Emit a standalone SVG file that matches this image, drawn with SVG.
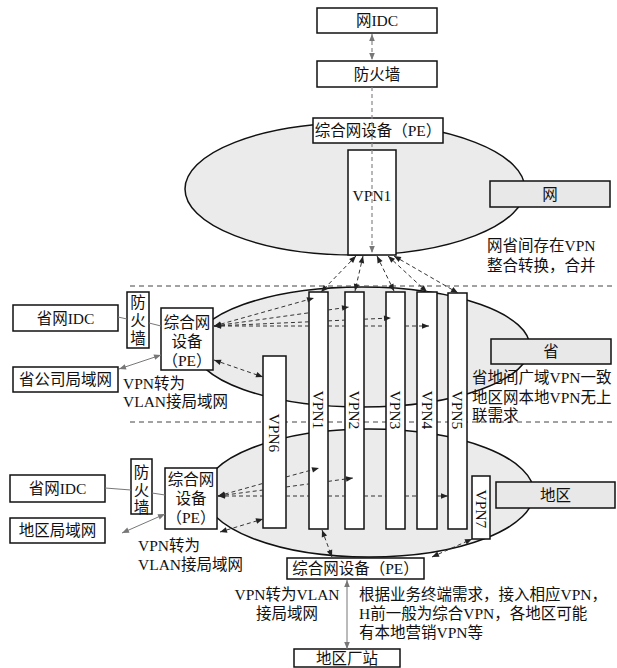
<svg xmlns="http://www.w3.org/2000/svg" width="617" height="668" viewBox="0 0 617 668">
<defs>
<style>
.t{font-family:"Liberation Serif","Noto Sans CJK SC",serif;font-size:15.5px;fill:#111}
.c{text-anchor:middle;dominant-baseline:central}
.box{fill:#fff;stroke:#111;stroke-width:1.5}
.gbox{fill:#e8e8e8;stroke:#111;stroke-width:1.5}
.ell{fill:#ebebeb;stroke:#111;stroke-width:1.5}
.dash{fill:none;stroke:#333;stroke-width:1;stroke-dasharray:4 3}
.gdash{fill:none;stroke:#888;stroke-width:1.2;stroke-dasharray:4 3}
.gline{fill:none;stroke:#777;stroke-width:1}
.sep{fill:none;stroke:#444;stroke-width:1;stroke-dasharray:5 4}
</style>
<marker id="ah" viewBox="0 0 10 10" refX="10" refY="5" markerWidth="8" markerHeight="7" markerUnits="userSpaceOnUse" orient="auto-start-reverse"><path d="M0,1 L10,5 L0,9 z" fill="#222"/></marker>
<marker id="ag" viewBox="0 0 10 10" refX="10" refY="5" markerWidth="8" markerHeight="7" markerUnits="userSpaceOnUse" orient="auto-start-reverse"><path d="M0,1 L10,5 L0,9 z" fill="#777"/></marker>
</defs>
<rect width="617" height="668" fill="#fff"/>

<!-- regions -->
<g id="region-top"><ellipse class="ell" cx="355" cy="189" rx="170" ry="66"/></g>
<g id="region-prov"><ellipse class="ell" cx="362" cy="347" rx="168" ry="60"/></g>
<g id="region-area"><ellipse class="ell" cx="369" cy="493" rx="165" ry="64"/></g>

<g id="separators">
<path class="sep" d="M130,286 H612"/>
<path class="sep" d="M130,422 H612"/>
</g>

<!-- top nodes -->
<g id="idc-top"><rect class="box" x="317" y="8" width="120" height="25"/><text class="t c" x="377" y="20.5">网IDC</text></g>
<g id="fw-top"><rect class="box" x="317" y="61" width="120" height="26"/><text class="t c" x="377" y="74">防火墙</text></g>
<g id="pe-top"><rect class="box" x="313" y="118" width="130" height="25"/><text class="t c" x="378" y="130.5">综合网设备（PE）</text></g>
<g id="vpn1-top"><rect class="box" x="348" y="150" width="48" height="105"/><text class="t c" x="372" y="195">VPN1</text></g>
<g id="label-net"><rect class="gbox" x="490" y="181" width="120" height="26"/><text class="t c" x="550" y="194">网</text></g>

<!-- tall VPN bars -->
<g id="vpn1"><rect class="box" x="309" y="292" width="19" height="237"/><text class="t c" x="318.5" y="410" transform="rotate(90 318.5 410)">VPN1</text></g>
<g id="vpn2"><rect class="box" x="345" y="292" width="19" height="237"/><text class="t c" x="354.5" y="410" transform="rotate(90 354.5 410)">VPN2</text></g>
<g id="vpn3"><rect class="box" x="386" y="292" width="19" height="237"/><text class="t c" x="395.5" y="410" transform="rotate(90 395.5 410)">VPN3</text></g>
<g id="vpn4"><rect class="box" x="417" y="292" width="20" height="237"/><text class="t c" x="427" y="410" transform="rotate(90 427 410)">VPN4</text></g>
<g id="vpn5"><rect class="box" x="448" y="293" width="19" height="236"/><text class="t c" x="457.5" y="410" transform="rotate(90 457.5 410)">VPN5</text></g>
<g id="vpn6"><rect class="box" x="263" y="356" width="23" height="172"/><text class="t c" x="274.5" y="433" transform="rotate(90 274.5 433)">VPN6</text></g>
<g id="vpn7"><rect class="box" x="472" y="476" width="18" height="63"/><text class="t c" x="481" y="509" transform="rotate(90 481 509)">VPN7</text></g>

<!-- province side -->
<g id="label-prov"><rect class="gbox" x="491" y="339" width="120" height="25"/><text class="t c" x="551" y="351.5">省</text></g>
<g id="idc-prov"><rect class="box" x="13" y="305" width="105" height="26"/><text class="t c" x="65.5" y="318">省网IDC</text></g>
<g id="fw-prov"><rect class="box" x="127" y="292" width="22" height="56"/>
<text class="t c" x="138" y="302">防</text><text class="t c" x="138" y="320">火</text><text class="t c" x="138" y="338">墙</text></g>
<g id="pe-prov"><rect class="box" x="161" y="308" width="52" height="62"/>
<text class="t c" x="187" y="322">综合网</text><text class="t c" x="187" y="341">设备</text><text class="t c" x="187" y="360">（PE）</text></g>
<g id="lan-prov"><rect class="box" x="13" y="367" width="105" height="25"/><text class="t c" x="65.5" y="379.5">省公司局域网</text></g>

<!-- area side -->
<g id="label-area"><rect class="gbox" x="496" y="482" width="119" height="26"/><text class="t c" x="555.5" y="495">地区</text></g>
<g id="idc-area"><rect class="box" x="10" y="475" width="95" height="27"/><text class="t c" x="57.5" y="488.5">省网IDC</text></g>
<g id="fw-area"><rect class="box" x="131" y="459" width="21" height="55"/>
<text class="t c" x="141.5" y="472">防</text><text class="t c" x="141.5" y="490">火</text><text class="t c" x="141.5" y="507">墙</text></g>
<g id="pe-area"><rect class="box" x="165" y="468" width="52" height="61"/>
<text class="t c" x="191" y="479">综合网</text><text class="t c" x="191" y="498">设备</text><text class="t c" x="191" y="517">（PE）</text></g>
<g id="lan-area"><rect class="box" x="10" y="518" width="95" height="25"/><text class="t c" x="57.5" y="530.5">地区局域网</text></g>
<g id="pe-bottom"><rect class="box" x="287" y="558" width="137" height="21"/><text class="t c" x="355.5" y="568.5">综合网设备（PE）</text></g>
<g id="station"><rect class="box" x="294" y="649" width="106" height="18"/><text class="t c" x="347" y="658">地区厂站</text></g>

<!-- connectors -->
<g id="connectors">
<path class="gdash" d="M372,34 V60" marker-start="url(#ag)" marker-end="url(#ag)"/>
<path class="gdash" d="M372,87 V253" marker-end="url(#ag)"/>

<path class="dash" d="M356,256 L321,292" marker-start="url(#ah)" marker-end="url(#ah)"/>
<path class="dash" d="M363,256 L355,291" marker-start="url(#ah)" marker-end="url(#ah)"/>
<path class="dash" d="M377,256 L394,291" marker-start="url(#ah)" marker-end="url(#ah)"/>
<path class="dash" d="M388,256 L427,292" marker-start="url(#ah)" marker-end="url(#ah)"/>
<path class="dash" d="M394,256 L458,293" marker-start="url(#ah)" marker-end="url(#ah)"/>

<path class="dash" d="M214,326 L314,298" marker-start="url(#ah)" marker-end="url(#ah)"/>
<path class="dash" d="M214,326 L309,312.8 M328,310 L349,307" marker-start="url(#ah)" marker-end="url(#ah)"/>
<path class="dash" d="M214,326 L309,321.8 M328,320.9 L345,320.1 M364,319.2 L391,318" marker-start="url(#ah)" marker-end="url(#ah)"/>
<path class="dash" d="M214,326 L309,326 M328,326 L345,326 M364,326 L386,326 M405,326 L429,326" marker-start="url(#ah)" marker-end="url(#ah)"/>
<path class="dash" d="M214,360 L263,377" marker-start="url(#ah)" marker-end="url(#ah)"/>

<path class="dash" d="M218,496 L263,483.4 M286,477 L319,468" marker-start="url(#ah)" marker-end="url(#ah)"/>
<path class="dash" d="M218,496 L263,490 M286,487 L309,483.9 M328,481.4 L353,478" marker-start="url(#ah)" marker-end="url(#ah)"/>
<path class="dash" d="M218,496 L263,496 M286,496 L309,496 M328,496 L345,496 M364,496 L386,496 M405,496 L417,496 M437,496 L448,496" marker-start="url(#ah)" marker-end="url(#ah)"/>
<path class="dash" d="M220,532 L263,519" marker-start="url(#ah)" marker-end="url(#ah)"/>
<path class="dash" d="M322,530 L332,557" marker-start="url(#ah)" marker-end="url(#ah)"/>
<path class="dash" d="M432,557 L472,539" marker-start="url(#ah)" marker-end="url(#ah)"/>

<path class="gline" d="M118,317 L127,319"/>
<path class="gline" d="M149,323 L161,326"/>
<path class="gline" d="M105,488 L131,490"/>
<path class="gline" d="M152,493 L165,495"/>
<path class="gline" d="M119,369 L161,355" marker-start="url(#ag)" marker-end="url(#ag)"/>
<path class="gline" d="M122,533 L165,514" marker-start="url(#ag)" marker-end="url(#ag)"/>
<path class="gline" d="M347,580 V649" marker-start="url(#ag)" marker-end="url(#ag)"/>
</g>

<!-- annotations -->
<g id="notes">
<text class="t" x="487" y="251">网省间存在VPN</text>
<text class="t" x="487" y="271">整合转换，合并</text>
<text class="t" x="472" y="383">省地间广域VPN一致</text>
<text class="t" x="472" y="403">地区网本地VPN无上</text>
<text class="t" x="472" y="421">联需求</text>
<text class="t" x="123" y="389">VPN转为</text>
<text class="t" x="123" y="407">VLAN接局域网</text>
<text class="t" x="138" y="551">VPN转为</text>
<text class="t" x="138" y="570">VLAN接局域网</text>
<text class="t" x="287" y="600" text-anchor="middle">VPN转为VLAN</text>
<text class="t" x="287" y="619" text-anchor="middle">接局域网</text>
<text class="t" x="359" y="600">根据业务终端需求，接入相应VPN，</text>
<text class="t" x="359" y="619">H前一般为综合VPN，各地区可能</text>
<text class="t" x="359" y="638">有本地营销VPN等</text>
</g>
</svg>
